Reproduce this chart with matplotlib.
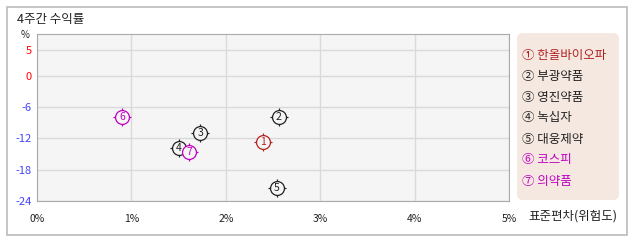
import matplotlib
matplotlib.use("Agg")
import matplotlib.pyplot as plt
from matplotlib.patches import Rectangle, FancyBboxPatch

plt.rcParams['font.family'] = ['Noto Sans CJK KR', 'DejaVu Sans']

# 4주간 수익률 vs 표준편차
nums = ['1', '2', '3', '4', '5', '6', '7']
names = ['한올바이오파', '부광약품', '영진약품', '녹십자', '대웅제약', '코스피', '의약품']
circ = ['①', '②', '③', '④', '⑤', '⑥', '⑦']
std_dev = [2.39, 2.56, 1.73, 1.50, 2.54, 0.90, 1.61]
returns = [-12.7, -7.9, -10.9, -13.9, -21.5, -7.9, -14.6]
colors = ['#b22222', '#222222', '#222222', '#222222', '#222222', '#c000c0', '#c000c0']

x_ticks = [0, 1, 2, 3, 4, 5]
y_ticks = [5, 0, -6, -12, -18, -24]
y_colors = ['#ff0000', '#ff0000', '#4444ff', '#4444ff', '#4444ff', '#4444ff']

W, H = 638, 242
fig = plt.figure(figsize=(W / 100, H / 100), dpi=100)
fig.patch.set_facecolor('white')

# outer frame
fig.patches.append(Rectangle((7 / W, 1 - 235 / H), 620 / W, 228 / H, transform=fig.transFigure,
                             fill=False, edgecolor='#bbbbbb', lw=1.2))

ax = fig.add_axes([37 / W, 1 - 201 / H, 472 / W, 167 / H])
ax.set_facecolor('#f5f5f5')
ax.set_xlim(0, 5)
ax.set_ylim(-24, 8)
ax.set_xticks(x_ticks)
ax.set_xticklabels([f'{t}%' for t in x_ticks])
ax.set_yticks(y_ticks)
ax.set_yticklabels([str(t) for t in y_ticks])
ax.tick_params(length=0, labelsize=7.5, colors='#222222')
ax.tick_params(axis='x', pad=9)
ax.tick_params(axis='y', pad=4, labelsize=8)
for lbl, c in zip(ax.get_yticklabels(), y_colors):
    lbl.set_color(c)
ax.grid(True, color='#dadada', lw=1)
ax.set_axisbelow(True)
for s in ax.spines.values():
    s.set_color('#aaaaaa')

for x, y, n, c in zip(std_dev, returns, nums, colors):
    ax.plot(x, y, marker='+', ms=13.5, mew=0.9, color=c, zorder=3)
    ax.plot(x, y, marker='o', ms=10, mew=0.9, mfc='#f5f5f5', mec=c, zorder=4)
    ax.text(x, y, n, ha='center', va='center', fontsize=7.5, color=c, zorder=5)

fig.text(17 / W, 1 - 20 / H, '4주간 수익률', fontsize=9, va='center', ha='left', color='#222222')
fig.text(25 / W, 1 - 35 / H, '%', fontsize=7, va='center', ha='center', color='#222222')
fig.text(528 / W, 1 - 216 / H, '표준편차(위험도)', fontsize=9, va='center', ha='left', color='#222222')

# legend box
leg = FancyBboxPatch((517 / 100, (H - 200) / 100), 102 / 100, 167 / 100,
                     boxstyle='round,pad=0,rounding_size=0.06',
                     transform=fig.dpi_scale_trans, facecolor='#f5e8e1', edgecolor='none')
fig.patches.append(leg)
for i, (cc, nm, c) in enumerate(zip(circ, names, colors)):
    fig.text(522 / W, 1 - (55 + 21 * i) / H, f'{cc} {nm}', fontsize=9, va='center', ha='left', color=c)

fig.savefig('out.png', dpi=100)
